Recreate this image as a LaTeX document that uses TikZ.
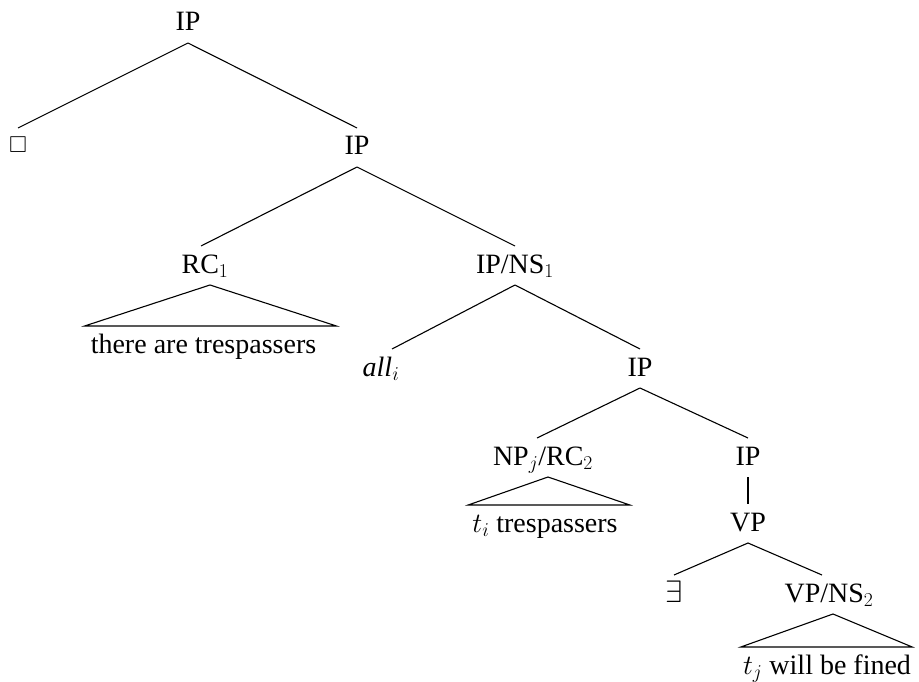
\RequirePackage{fix-cm}
\documentclass[tikz,border=0pt]{standalone}
\usepackage{amssymb}
\usepackage{fontspec}
\setmainfont{Liberation Serif}

\begin{document}
\begin{tikzpicture}[x=1pt,y=-1pt,
  lbl/.style={inner sep=0pt, text height=19pt, text depth=4pt,
              outer ysep=8pt, anchor=base, font=\fontsize{28}{34}\selectfont},
  branch/.style={line width=1.1pt},
  roof/.style={line width=1.1pt, line join=miter},
]
\useasboundingbox (0,0) rectangle (919,682);

% category labels
\node[lbl] (ip0)  at (188,31)  {IP};
\node[lbl, font=\fontsize{23}{28}\selectfont] (box) at (18,153) {$\square$};
\node[lbl] (ip1)  at (357,155) {IP};
\node[lbl] (rc)   at (205,273) {RC$_1$};
\node[lbl] (ipns) at (515,273) {IP/NS$_1$};
\node[lbl] (all)  at (381,376) {\textit{all}$_i$};
\node[lbl] (ip3)  at (640,376) {IP};
\node[lbl] (np)   at (543,465) {NP$_j$/RC$_2$};
\node[lbl] (ip4)  at (748,465) {IP};
\node[lbl] (vp)   at (748,531) {VP};
\node[lbl, font=\fontsize{31}{36}\selectfont] (ex) at (674,602) {$\exists$};
\node[lbl] (vpns) at (829,602) {VP/NS$_2$};

% yields under the roofs
\node[lbl] (t1) at (203.5,353) {there are trespassers};
\node[lbl] (t2) at (545,532)   {$t_i$ trespassers};
\node[lbl] (t3) at (827,674)   {$t_j$ will be fined};

% branches
\draw[branch] (ip0.south) -- ([yshift=-2pt]box.north);
\draw[branch] (ip0.south) -- (ip1.north);
\draw[branch] (ip1.south) -- ([xshift=-4pt]rc.north);
\draw[branch] (ip1.south) -- (ipns.north);
\draw[branch] (ipns.south) -- ([xshift=11pt]all.north);
\draw[branch] (ipns.south) -- (ip3.north);
\draw[branch] (ip3.south) -- ([xshift=-6pt]np.north);
\draw[branch] (ip3.south) -- (ip4.north);
\draw[branch] (ip4.south) -- (vp.north);
\draw[branch] (vp.south) -- (ex.north);
\draw[branch] (vp.south) -- ([xshift=-7pt]vpns.north);

% roofs over unanalysed constituents
\draw[roof] ([xshift=5pt]rc.south) -- ([xshift=-6pt]t1.north west)
  -- ([xshift=20pt]t1.north east) -- cycle;
\draw[roof] ([xshift=5pt]np.south) -- ([xshift=-4pt]t2.north west)
  -- ([xshift=12pt]t2.north east) -- cycle;
\draw[roof] ([xshift=4pt]vpns.south) -- ([xshift=-2pt]t3.north west)
  -- ([xshift=1pt]t3.north east) -- cycle;
\end{tikzpicture}
\end{document}
